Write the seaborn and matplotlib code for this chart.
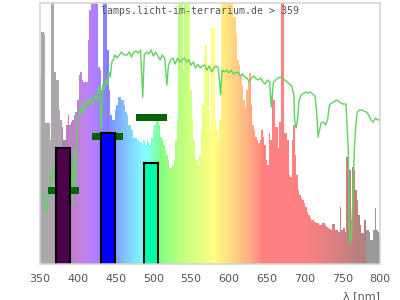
import numpy as np
import matplotlib
matplotlib.use("Agg")
import matplotlib.pyplot as plt
import seaborn as sns

# ---------------- data ----------------
wavelengths = np.arange(350, 801, 2)
intensity = [
    70.9, 88.9, 88.9, 88.0, 54.0, 54.0, 54.0, 47.5, 130, 130,
    73.6, 70.5, 70.5, 59.0, 55.2, 52.5, 47.5, 47.5, 53.3, 57.1,
    53.3, 54.4, 55.2, 57.1, 58.2, 62.8, 72.4, 73.6, 70.5, 69.7,
    69.7, 69.7, 85.8, 97.3, 130, 130, 130, 130, 130, 75.5,
    74.3, 66.7, 130, 130, 130, 82.0, 66.7, 57.1, 55.2, 55.2,
    59.0, 60.9, 64.0, 64.0, 62.8, 62.8, 60.9, 58.2, 57.1, 53.3,
    53.3, 51.3, 48.3, 48.3, 48.3, 47.5, 46.7, 46.7, 45.6, 47.5,
    45.6, 47.5, 46.4, 45.6, 48.3, 51.3, 53.3, 55.2, 55.9, 53.3,
    48.7, 47.5, 45.6, 43.7, 41.8, 39.8, 36.8, 36.8, 37.9, 39.8,
    47.5, 55.2, 130, 130, 130, 74.3, 130, 130, 130, 130,
    66.7, 55.2, 47.5, 39.8, 39.8, 37.9, 41.8, 51.3, 60.9, 80.0,
    84.0, 74.3, 59.0, 51.3, 90.4, 90.4, 55.2, 51.3, 48.3, 55.2,
    130, 130, 130, 130, 130, 130, 130, 130, 94.6, 94.6,
    87.7, 78.2, 76.2, 72.4, 68.6, 62.8, 60.2, 66.7, 70.5, 73.2,
    60.9, 53.3, 51.3, 48.7, 47.5, 46.4, 47.5, 51.3, 48.7, 45.6,
    39.8, 37.9, 50.2, 47.5, 64.8, 62.8, 52.5, 52.5, 44.4, 54.4,
    130, 130, 50.2, 50.2, 47.5, 34.1, 33.3, 47.5, 53.3, 41.8,
    34.1, 28.4, 26.4, 25.3, 24.5, 23.4, 21.8, 19.9, 18.8, 17.6,
    16.9, 16.9, 16.1, 15.7, 15.7, 14.9, 14.9, 15.7, 15.7, 14.9,
    14.2, 13.8, 13.4, 13.0, 15.3, 15.3, 13.0, 13.0, 12.3, 21.8,
    13.0, 13.8, 12.3, 41.0, 41.0, 36.0, 16.9, 37.2, 36.0, 28.4,
    24.5, 18.8, 14.9, 11.9, 11.9, 16.9, 13.0, 13.0, 12.3, 9.2,
    9.2, 13.0, 21.5, 13.0, 12.3, 11.1,
]

sun_wl = [352.6, 355, 357, 358, 361, 363, 366, 367, 370, 375, 380, 385, 390,
          393, 395, 397, 399, 401, 403, 405, 407, 409, 411, 413, 415, 417,
          419, 421, 423, 425, 427, 429, 431, 433, 435, 437, 439, 441, 443,
          445, 447, 449, 452, 455, 458, 461, 465, 468, 471, 474, 477, 480,
          483, 486, 488, 491, 494, 497, 500, 503, 506, 509, 512, 515, 518,
          520, 523, 526, 529, 532, 535, 538, 541, 544, 547, 550, 553, 556,
          559, 562, 565, 568, 571, 574, 577, 580, 583, 586, 589, 591, 594,
          597, 600, 603, 606, 609, 612, 615, 618, 621, 624, 627, 630, 633,
          636, 639, 642, 645, 648, 651, 654, 656, 659, 662, 665, 668, 671,
          674, 677, 680, 683, 686, 687, 689, 691, 693, 696, 699, 702, 705,
          708, 711, 714, 716, 718, 720, 722, 725, 728, 731, 733, 736, 739,
          742, 745, 748, 751, 755, 758, 760, 762, 764, 766, 768, 770, 773,
          776, 779, 782, 785, 788, 791, 794, 797, 800]
sun_val = [27.6, 26.4, 24.5, 19.5, 26.4, 29.5, 34.1, 36.8, 32.2, 36.0, 37.9, 34.1, 39.8,
           22.6, 43.7, 28.4, 55.2, 57.1, 59.8, 57.1, 60.9, 59.0, 62.8, 60.9, 62.8, 63.6,
           60.9, 62.8, 64.8, 62.8, 66.7, 68.6, 51.3, 68.6, 66.7, 70.5, 68.6, 73.6, 71.6,
           77.4, 78.2, 80.1, 78.9, 80.1, 81.2, 80.1, 80.1, 81.2, 79.3, 81.2, 81.6, 80.8,
           82.0, 64.0, 80.1, 81.2, 80.5, 82.0, 79.7, 81.2, 79.7, 78.2, 80.1, 78.9, 68.6,
           76.2, 78.2, 78.9, 76.6, 78.9, 77.4, 78.2, 78.9, 77.4, 78.2, 76.2, 77.4, 75.1,
           76.6, 75.1, 75.9, 76.2, 74.3, 75.9, 73.6, 75.1, 75.9, 75.1, 64.8, 74.3, 73.6,
           74.3, 73.2, 74.3, 72.8, 73.2, 73.6, 72.0, 72.8, 71.6, 71.3, 69.7, 71.3, 72.0,
           70.9, 70.5, 71.3, 69.7, 69.0, 70.5, 69.7, 60.2, 69.7, 70.5, 71.3, 71.6, 70.9,
           70.5, 69.7, 69.0, 68.2, 64.8, 55.2, 52.1, 55.9, 62.8, 64.8, 65.5, 65.9, 65.5,
           65.9, 65.1, 64.4, 59.0, 48.7, 51.3, 54.0, 54.4, 53.3, 55.9, 60.9, 61.7, 62.1,
           62.8, 62.5, 61.7, 61.3, 61.3, 43.7, 8.0, 9.2, 24.5, 43.7, 53.3, 58.2, 59.0,
           59.0, 58.6, 58.2, 57.1, 55.2, 54.4, 55.9, 55.2, 55.2]

lamp_centers = [380, 440, 497]
lamp_heights = [44.6, 50.1, 38.8]
lamp_colors = ["#4b0049", "#0000ff", "#00ffaa"]
marker_centers = [381, 439, 497]
marker_levels = [28.2, 49.0, 56.2]

title = "lamps.licht-im-terrarium.de > 359"
xticks = [350, 400, 450, 500, 550, 600, 650, 700, 750, 800]


def wl_color(w):
    if w < 380:
        return (0.675, 0.651, 0.678)
    if w > 780:
        return (0.6, 0.6, 0.6)
    if w < 440:
        r, g, b = -(w - 440) / 60, 0.0, 1.0
    elif w < 490:
        r, g, b = 0.0, (w - 440) / 50, 1.0
    elif w < 510:
        r, g, b = 0.0, 1.0, -(w - 510) / 20
    elif w < 580:
        r, g, b = (w - 510) / 70, 1.0, 0.0
    elif w < 645:
        r, g, b = 1.0, -(w - 645) / 65, 0.0
    else:
        r, g, b = 1.0, 0.0, 0.0
    if w < 420:
        f = 0.3 + 0.7 * (w - 380) / 40
    elif w > 700:
        f = 0.3 + 0.7 * (780 - w) / 80
    else:
        f = 1.0
    rgb = [(c * f) ** 0.8 if c > 0 else 0.0 for c in (r, g, b)]
    return tuple(0.5 + 0.5 * c for c in rgb)


sns.set_style("white")
fig = plt.figure(figsize=(4, 3), dpi=100)
ax = fig.add_axes([0.1, 0.12, 0.85, 0.87])

ax.bar(wavelengths, intensity, width=2.05,
       color=[wl_color(w) for w in wavelengths], linewidth=0, zorder=1)
sns.lineplot(x=sun_wl, y=sun_val, color="#5fd35f", lw=1.0, ax=ax, zorder=2)
ax.bar(marker_centers, 2.6, bottom=np.array(marker_levels) - 1.3, width=41,
       color="#006400", linewidth=0, zorder=3)
ax.bar(lamp_centers, np.array(lamp_heights) + 1.5, bottom=-1.5, width=18.5,
       color=lamp_colors, edgecolor="black", linewidth=1.5, zorder=4)

ax.set_xlim(350, 800)
ax.set_ylim(0, 100)
ax.set_yticks([])
ax.set_xticks(xticks)
ax.tick_params(axis="x", length=0, pad=7, labelsize=8, labelcolor="#555555")
for s in ax.spines.values():
    s.set_visible(True)
    s.set_color("#d3d3d3")
    s.set_linewidth(1.1)
    s.set_zorder(10)
ax.set_xlabel("λ [nm]", loc="right", fontsize=8, color="#555555", labelpad=5.5)

fig.text(0.5, 1 - 14 / 300, title, family="DejaVu Sans Mono", fontsize=7.15,
         color="#555555", ha="center", va="baseline", zorder=20)

fig.savefig("out.png", dpi=100)
